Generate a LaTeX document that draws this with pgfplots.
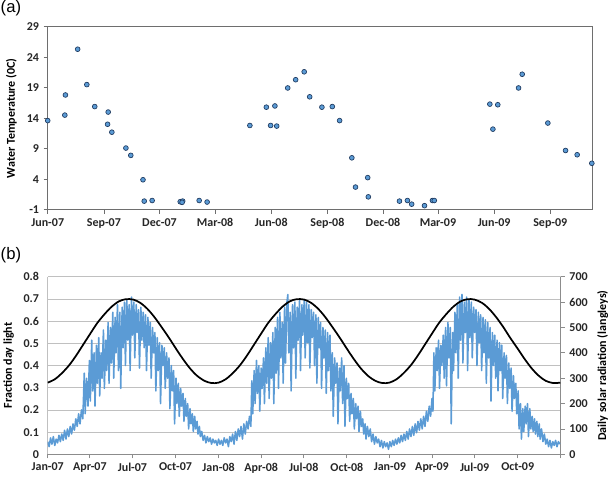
\documentclass[border=0pt]{standalone}
\usepackage{pgfplots}
\usepackage{pgfplotstable}
\pgfplotsset{compat=1.18}
\usepackage{fontspec}
\setmainfont{Carlito}
\newfontfamily\arialfont{Liberation Sans}
\definecolor{xlblue}{HTML}{5B9BD5}
\definecolor{mk}{HTML}{1F3A5F}
\definecolor{framec}{HTML}{6E6E6E}
\definecolor{gridc}{HTML}{C0C0C0}
\definecolor{axc}{HTML}{8C8C8C}

\pgfplotstableread{
day temp
151 13.6
179 14.5
180 17.8
200 25.3
215 19.5
228 15.9
250 15.0
249 13.0
256 11.7
279 9.1
287 7.9
307 3.9
309 0.4
322 0.5
368 0.3
372 0.4
371 0.2
399 0.5
412 0.25
482 12.8
509 15.8
516 12.8
523 16.0
526 12.7
544 18.95
557 20.3
571 21.6
580 17.5
600 15.8
617 15.9
629 13.6
649 7.5
655 2.7
675 4.25
676 1.1
727 0.4
740 0.5
747 -0.1
768 -0.35
781 0.5
784 0.5
875 16.3
880 12.2
888 16.2
922 18.95
928 21.2
970 13.2
999 8.7
1018 8.0
1042 6.6
}\tempdata

\pgfplotstableread{
day frac
0 0.323
15 0.338
30 0.365
46 0.402
61 0.446
76 0.495
91 0.544
106 0.592
122 0.633
137 0.666
152 0.689
167 0.699
183 0.697
198 0.682
213 0.655
228 0.618
243 0.574
259 0.525
274 0.476
289 0.429
304 0.387
319 0.354
335 0.331
350 0.321
365 0.323
380 0.338
395 0.365
411 0.402
426 0.446
441 0.495
456 0.544
471 0.592
487 0.633
502 0.666
517 0.689
532 0.699
548 0.697
563 0.682
578 0.655
593 0.618
608 0.574
624 0.525
639 0.476
654 0.429
669 0.387
684 0.354
700 0.331
715 0.321
730 0.323
745 0.338
760 0.365
776 0.402
791 0.446
806 0.495
821 0.544
836 0.592
852 0.633
867 0.666
882 0.689
897 0.699
912 0.697
928 0.682
943 0.655
958 0.618
973 0.574
988 0.525
1004 0.476
1019 0.429
1034 0.387
1049 0.354
1064 0.331
1080 0.321
1095 0.323
}\fracdata

\pgfplotstableread{
day rad
0 50
3 30
6 65
9 40
12 70
15 35
18 60
21 45
24 75
27 50
30 80
33 55
36 95
39 60
42 100
45 70
48 110
51 80
54 120
57 95
60 140
63 110
66 160
69 120
72 175
75 140
78 320
80 160
83 300
86 190
89 370
91 210
94 450
96 250
99 400
101 190
104 430
106 280
109 460
111 230
114 400
116 300
119 490
121 260
124 450
126 330
129 520
131 280
134 500
136 360
139 560
141 300
144 540
146 400
149 590
151 330
154 560
156 260
159 580
161 420
164 600
166 350
169 610
171 450
174 590
176 330
179 620
181 470
184 600
186 380
189 590
191 480
194 570
196 340
199 580
201 450
204 560
206 420
209 550
211 330
214 540
216 430
219 520
221 300
224 500
226 400
229 480
231 250
234 460
236 330
239 440
241 200
244 430
246 350
249 420
251 260
254 400
256 300
259 380
261 180
264 350
266 250
269 330
271 120
274 300
276 200
279 280
281 150
284 260
286 190
289 240
291 130
294 220
296 150
299 200
301 100
304 180
306 120
309 160
311 90
314 150
316 100
319 130
321 80
324 110
326 70
329 90
332 55
335 75
338 45
341 70
344 50
347 65
350 40
353 60
356 45
359 55
362 35
365 60
368 40
371 55
374 35
377 65
380 45
383 60
386 30
389 70
392 50
395 80
398 40
401 90
404 55
407 100
410 70
413 110
416 60
419 120
422 80
425 130
428 100
431 150
434 110
436 290
438 160
441 330
443 200
446 370
448 240
451 350
453 170
456 340
458 260
461 380
463 200
466 420
468 280
471 460
473 220
476 440
478 300
481 480
483 200
486 500
488 320
491 540
493 260
496 560
498 380
501 520
503 280
506 580
508 360
511 600
513 630
515 400
518 560
520 250
523 590
525 420
528 600
530 300
533 580
535 450
538 610
540 330
543 590
545 470
548 610
550 380
553 600
555 440
558 590
560 340
563 570
565 460
568 560
570 350
573 550
575 280
578 540
580 420
583 520
585 260
588 500
590 380
593 490
595 240
598 480
600 330
603 470
605 250
608 400
610 150
613 380
615 280
618 360
620 120
623 340
625 250
628 380
630 200
633 350
635 110
638 300
640 220
643 280
645 130
648 240
650 160
653 220
655 100
658 200
660 140
663 190
665 90
668 170
670 110
673 140
675 80
678 120
680 60
683 110
686 70
689 100
692 50
695 80
698 40
701 70
704 45
707 60
710 30
713 55
716 25
719 50
722 30
725 45
728 20
731 50
734 30
737 55
740 35
743 60
746 40
749 65
752 45
755 75
758 50
761 80
764 55
767 90
770 60
773 100
776 70
779 110
782 75
785 120
788 85
791 130
794 95
797 140
800 100
803 150
806 110
809 170
812 130
815 190
818 150
821 220
823 170
825 400
827 250
830 420
832 330
835 450
837 260
840 430
842 350
845 470
847 300
850 500
852 270
855 520
857 380
860 500
862 120
865 480
867 330
870 560
872 400
875 590
877 300
880 620
882 450
885 630
887 360
890 600
892 480
895 620
897 330
900 610
902 460
905 600
907 380
910 580
912 480
915 570
917 350
920 560
922 440
925 550
927 330
930 540
932 400
935 530
937 280
940 520
942 380
945 500
947 210
950 480
952 350
955 470
957 300
960 450
962 250
965 440
967 330
970 430
972 220
975 400
977 300
980 390
982 200
985 360
987 260
990 340
992 170
995 310
997 220
1000 280
1002 160
1005 250
1007 100
1010 200
1012 60
1015 180
1017 90
1020 190
1022 120
1025 200
1027 70
1030 180
1032 100
1035 150
1037 90
1040 140
1042 80
1045 130
1047 70
1050 120
1052 60
1055 100
1058 50
1061 80
1064 40
1067 60
1070 30
1073 55
1076 25
1079 50
1082 35
1085 55
1088 30
1091 50
1094 40
}\raddata

\begin{document}
\begin{tikzpicture}
\useasboundingbox (0,0) rectangle (456.75pt,357.75pt);

% ---------- panel (a) ----------
\begin{axis}[
  at={(35.8pt,200.5pt)}, anchor=south west, scale only axis,
  width=408.75pt, height=137.25pt,
  xmin=151, xmax=1043.5, ymin=-1, ymax=29,
  xtick={151,243,334,425,517,609,700,790,882,974},
  xticklabels={Jun-07,Sep-07,Dec-07,Mar-08,Jun-08,Sep-08,Dec-08,Mar-09,Jun-09,Sep-09},
  ytick={-1,4,9,14,19,24,29},
  yticklabels={-1,4,9,14,19,24,29},
  tick align=outside, major tick length=3pt,
  tick style={framec, line width=0.6pt},
  xtick pos=bottom, ytick pos=left,
  axis line style={framec, line width=0.9pt},
  ticklabel style={font=\bfseries\fontsize{9}{10}\selectfont, text=black!85},
  clip=false,
]
\addplot[only marks, mark=*, mark size=1.8pt,
  mark options={fill=xlblue, draw=mk, line width=0.5pt}] table[x=day,y=temp] {\tempdata};
\end{axis}

% ---------- panel (b): left axis with grid ----------
\begin{axis}[
  at={(35.8pt,17pt)}, anchor=south west, scale only axis,
  width=384.75pt, height=133.2pt,
  xmin=0, xmax=1096, ymin=0, ymax=0.8,
  xtick={0,90,181,273,365,456,547,639,731,821,912,1004,1096},
  xticklabels={Jan-07,Apr-07,Jul-07,Oct-07,Jan-08,Apr-08,Jul-08,Oct-08,Jan-09,Apr-09,Jul-09,Oct-09,},
  ytick={0,0.1,0.2,0.3,0.4,0.5,0.6,0.7,0.8},
  yticklabels={0,0.1,0.2,0.3,0.4,0.5,0.6,0.7,0.8},
  axis x line*=bottom, axis y line*=left,
  x axis line style={axc, line width=0.7pt},
  y axis line style={gridc, line width=0.7pt},
  ymajorgrids, grid style={gridc, line width=0.6pt},
  xtick style={axc, line width=0.6pt}, ytick style={draw=none},
  tick align=outside, major tick length=3pt,
  ticklabel style={font=\bfseries\fontsize{9}{10}\selectfont, text=black!85},
]
\end{axis}

% ---------- panel (b): right axis, solar radiation ----------
\begin{axis}[
  at={(35.8pt,17pt)}, anchor=south west, scale only axis,
  width=384.75pt, height=133.2pt,
  xmin=0, xmax=1096, ymin=0, ymax=700,
  hide x axis,
  axis y line*=right,
  y axis line style={axc, line width=0.7pt},
  ytick={0,100,200,300,400,500,600,700},
  yticklabels={0,100,200,300,400,500,600,700},
  ytick style={axc, line width=0.6pt},
  tick align=outside, major tick length=3pt,
  ticklabel style={font=\bfseries\fontsize{9}{10}\selectfont, text=black!85},
]
\addplot[xlblue, line width=1.15pt, line join=round] table[x=day,y=rad] {\raddata};
\end{axis}

% ---------- panel (b): fraction day light on top ----------
\begin{axis}[
  at={(35.8pt,17pt)}, anchor=south west, scale only axis,
  width=384.75pt, height=133.2pt,
  xmin=0, xmax=1096, ymin=0, ymax=0.8,
  hide axis,
]
\addplot[black, line width=1.3pt, smooth] table[x=day,y=frac] {\fracdata};
\end{axis}

% ---------- labels ----------
\node[font=\arialfont\fontsize{12.5}{14}\selectfont] at (8.2pt,351.5pt) {(a)};
\node[font=\arialfont\fontsize{12.5}{14}\selectfont] at (8.2pt,166pt) {(b)};
\node[rotate=90, font=\bfseries\fontsize{9}{10}\selectfont] at (8.5pt,269.1pt) {Water Temperature (0C)};
\node[rotate=90, font=\bfseries\fontsize{9}{10}\selectfont] at (6.5pt,83.6pt) {Fraction day light};
\node[rotate=90, font=\bfseries\fontsize{9}{10}\selectfont] at (452pt,83.6pt) {Daily solar radiation (langleys)};
\end{tikzpicture}
\end{document}
